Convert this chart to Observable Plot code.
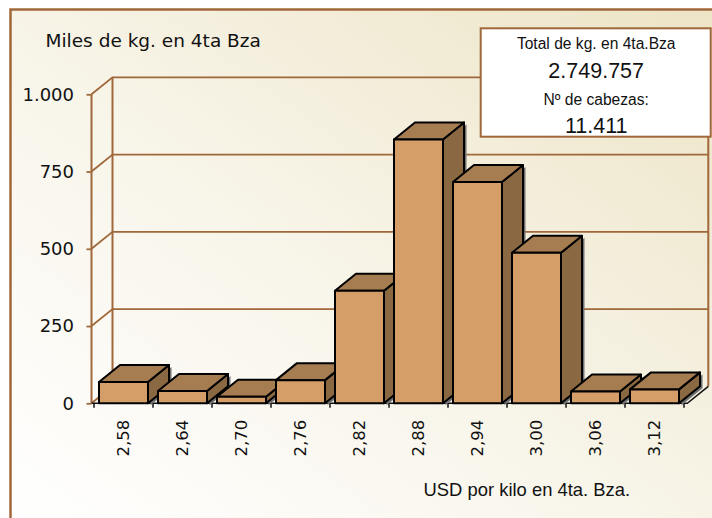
<!DOCTYPE html>
<html><head><meta charset="utf-8">
<script src="https://cdn.jsdelivr.net/npm/d3@7"></script>
<script src="https://cdn.jsdelivr.net/npm/@observablehq/plot@0.6"></script>
<style>body{margin:0;background:#fff} svg{display:block}</style>
</head><body><div id="chart"></div>
<script>
// ---- data ----
const categories = ["2,58","2,64","2,70","2,76","2,82","2,88","2,94","3,00","3,06","3,12"];
const values = [69, 40, 21, 75, 364, 854, 716, 487, 38, 45];
const yTicks = [0, 250, 500, 750, 1000];
const chartTitle = "Miles de kg. en 4ta Bza";
const xTitle = "USD por kilo en 4ta. Bza.";
const legendLines = ["Total de kg. en 4ta.Bza", "2.749.757", "Nº de cabezas:", "11.411"];

const data = categories.map((c, i) => ({price: c, kg: values[i]}));
const DX = 21, DY = -17;
const brown = "#A0683A";
const locale = d3.formatLocale({decimal: ",", thousands: ".", grouping: [3], currency: ["$", ""]});
const fmt = locale.format(",");
const NS = "http://www.w3.org/2000/svg";
function el(tag, attrs) { const e = document.createElementNS(NS, tag); for (const k in attrs) e.setAttribute(k, attrs[k]); return e; }
function bandOf(scales) {
  const x = scales.x;
  return x.bandwidth ? x.bandwidth() : x(categories[1]) - x(categories[0]);
}

const walls = Plot.ruleY(yTicks, {y: d => d, render: (index, scales, vals, dims) => {
  const g = el("g", {});
  const {width, height, marginLeft, marginRight} = dims;
  const xL = marginLeft, xR = width - marginRight;
  const y0 = scales.y(0), yTop = scales.y(d3.max(yTicks));
  const defs = el("defs", {});
  const lg = el("linearGradient", {id: "bgGrad", x1: "0", y1: "1", x2: "1", y2: "0"});
  lg.append(el("stop", {offset: "0", "stop-color": "#FFFFFF"}));
  lg.append(el("stop", {offset: "0.45", "stop-color": "#F8F5EA"}));
  lg.append(el("stop", {offset: "1", "stop-color": "#EDE4C6"}));
  defs.append(lg); g.append(defs);
  g.append(el("rect", {x: 10.5, y: 9.5, width: width, height: height, fill: "url(#bgGrad)", stroke: brown, "stroke-width": 2.5}));
  for (const t of yTicks) {
    const y = scales.y(t);
    const d = t === 0 ? `M${xL},${y}L${xL + DX},${y + DY}` : `M${xL},${y}L${xL + DX},${y + DY}L${xR + DX},${y + DY}`;
    g.append(el("path", {d, fill: "none", stroke: brown, "stroke-width": 1.8}));
  }
  g.append(el("path", {d: `M${xL + DX},${yTop + DY}V${y0 + DY}M${xR + DX},${yTop + DY}V${y0 + DY}M${xL},${yTop}V${y0}`, fill: "none", stroke: brown, "stroke-width": 2}));
  // floor edges & x axis line with band-edge ticks
  let dTicks = `M${xL},${y0}H${xR}L${xR + DX},${y0 + DY}`;
  const bw = bandOf(scales);
  for (const c of categories) dTicks += `M${scales.x(c)},${y0}v4.5`;
  dTicks += `M${scales.x(categories[categories.length - 1]) + bw},${y0}v4.5`;
  g.append(el("path", {d: dTicks, fill: "none", stroke: "#111", "stroke-width": 1.5}));
  // info box
  g.append(el("rect", {x: 480.7, y: 28.3, width: 230, height: 108.4, fill: "#fff", stroke: brown, "stroke-width": 2}));
  return g;
}});

const bars = Plot.barY(data, {x: "price", y: "kg", render: (index, scales) => {
  const g = el("g", {"stroke": "#000", "stroke-width": 2, "stroke-linejoin": "round"});
  const bw = bandOf(scales);
  const y0 = scales.y(0);
  for (const i of index) {
    const d = data[i];
    const x0 = scales.x(d.price) + 5, x1 = scales.x(d.price) + bw - 5;
    const yv = scales.y(d.kg);
    const side = `M${x1},${yv}L${x1 + DX},${yv + DY}L${x1 + DX},${y0 + DY}L${x1},${y0}Z`;
    g.append(el("path", {d: side, fill: "#707070", stroke: "none", transform: "translate(2.5,2)"}));
    g.append(el("path", {d: side, fill: "#8A6842"}));
    g.append(el("path", {d: `M${x0},${yv}L${x1},${yv}L${x1 + DX},${yv + DY}L${x0 + DX},${yv + DY}Z`, fill: "#A67C51"}));
    g.append(el("rect", {x: x0, y: yv, width: x1 - x0, height: y0 - yv, fill: "#D59E69"}));
  }
  return g;
}});

const legendText = (line, dy, size) => Plot.text([line], {text: d => d, frameAnchor: "top-right", dx: -91.6, dy, lineAnchor: "bottom", textAnchor: "middle", fontSize: size, fontFamily: "Liberation Sans", fill: "#111"});

const chart = Plot.plot({
  width: 712, height: 518,
  marginLeft: 91.5, marginRight: 24.7, marginTop: 94.3, marginBottom: 114.7,
  x: {type: "band", domain: categories, padding: 0},
  y: {domain: [0, 1000]},
  style: {background: "#fff", color: "#111"},
  marks: [
    walls,
    bars,
    Plot.axisY(yTicks, {tickSize: 5, tickPadding: 13, stroke: brown, strokeWidth: 1.8, fill: "#111", tickFormat: fmt, fontSize: 18, fontFamily: "DejaVu Sans", label: null}),
    Plot.axisX({tickRotate: -90, tickSize: 0, tickPadding: 16, fill: "#111", fontSize: 16.5, fontFamily: "DejaVu Sans", label: null}),
    Plot.text([chartTitle], {text: d => d, frameAnchor: "top-left", dx: -46.5, dy: -48.3, lineAnchor: "bottom", textAnchor: "start", fontSize: 18.5, fontFamily: "DejaVu Sans", fill: "#111"}),
    Plot.text([xTitle], {text: d => d, frameAnchor: "bottom", dx: 136.9, dy: 91.7, lineAnchor: "bottom", fontSize: 18.4, fontFamily: "Liberation Sans", fill: "#111"}),
    legendText(legendLines[0], -46, 15.6),
    legendText(legendLines[1], -17, 21.5),
    legendText(legendLines[2], 9.7, 15.6),
    legendText(legendLines[3], 38.4, 21.5)
  ]
});
document.getElementById("chart").append(chart);
</script></body></html>
